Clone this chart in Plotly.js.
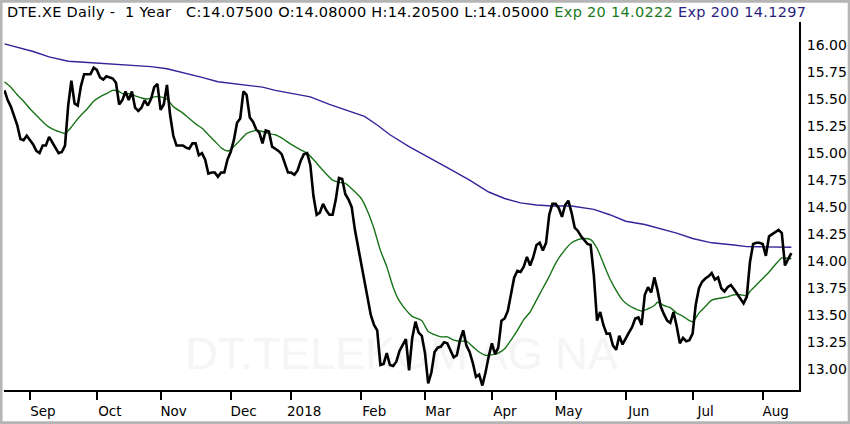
<!DOCTYPE html>
<html>
<head>
<meta charset="utf-8">
<script src="https://cdn.plot.ly/plotly-3.0.1.min.js"></script>
<style>html,body{margin:0;padding:0;background:#fff;}#chart{width:850px;height:424px;}
.annotation-text{letter-spacing:0.3px;}</style>
</head>
<body>
<div id="chart"></div>
<script>
// Trading-day positions of month starts and their labels
const monthTickIdx = [8, 29, 49, 71, 90, 112, 132, 153, 173, 195, 216, 238];
const monthTickText = ['Sep', 'Oct', 'Nov', 'Dec', '2018', 'Feb', 'Mar', 'Apr', 'May', 'Jun', 'Jul', 'Aug'];

const yTickVals = [13.00, 13.25, 13.50, 13.75, 14.00, 14.25, 14.50, 14.75, 15.00, 15.25, 15.50, 15.75, 16.00];
const yTickText = ['13.00', '13.25', '13.50', '13.75', '14.00', '14.25', '14.50', '14.75', '15.00', '15.25', '15.50', '15.75', '16.00'];

// Daily closes (one per trading day)
const closes = [
  15.58, 15.49, 15.43, 15.35, 15.26, 15.13, 15.12, 15.16, 15.12, 15.08,
  15.02, 15.00, 15.07, 15.07, 15.15, 15.10, 15.05, 15.00, 15.01, 15.07,
  15.44, 15.67, 15.46, 15.44, 15.62, 15.73, 15.73, 15.73, 15.79, 15.77,
  15.70, 15.68, 15.71, 15.70, 15.69, 15.65, 15.45, 15.49, 15.57, 15.49,
  15.57, 15.42, 15.39, 15.42, 15.49, 15.44, 15.50, 15.61, 15.64, 15.40,
  15.45, 15.63, 15.35, 15.16, 15.07, 15.07, 15.07, 15.05, 15.04, 15.09,
  15.09, 14.98, 15.00, 14.94, 14.81, 14.82, 14.82, 14.78, 14.82, 14.82,
  14.94, 15.01, 15.12, 15.28, 15.32, 15.57, 15.54, 15.33, 15.29, 15.22,
  15.19, 15.09, 15.21, 15.20, 15.06, 15.04, 15.02, 14.99, 14.91, 14.82,
  14.82, 14.80, 14.84, 14.93, 14.99, 15.00, 14.89, 14.60, 14.43, 14.45,
  14.53, 14.47, 14.43, 14.43, 14.57, 14.77, 14.76, 14.62, 14.57, 14.50,
  14.29, 14.13, 14.00, 13.84, 13.66, 13.50, 13.41, 13.36, 13.04, 13.05,
  13.15, 13.04, 13.03, 13.07, 13.17, 13.22, 13.28, 12.99, 13.29, 13.44,
  13.34, 13.31, 13.15, 12.87, 12.97, 13.16, 13.20, 13.21, 13.25, 13.24,
  13.18, 13.11, 13.13, 13.27, 13.36, 13.22, 13.16, 13.06, 12.93, 12.95,
  12.85, 12.97, 13.12, 13.24, 13.14, 13.20, 13.45, 13.47, 13.54, 13.71,
  13.85, 13.91, 13.90, 13.95, 14.04, 13.96, 14.04, 14.15, 14.17, 14.10,
  14.17, 14.43, 14.53, 14.53, 14.49, 14.41, 14.52, 14.56, 14.45, 14.31,
  14.28, 14.23, 14.19, 14.16, 14.15, 13.87, 13.45, 13.53, 13.41, 13.33,
  13.33, 13.22, 13.18, 13.31, 13.23, 13.29, 13.34, 13.39, 13.47, 13.48,
  13.41, 13.69, 13.76, 13.71, 13.85, 13.73, 13.58, 13.51, 13.45, 13.43,
  13.53, 13.40, 13.24, 13.29, 13.26, 13.27, 13.33, 13.60, 13.75, 13.81,
  13.84, 13.86, 13.89, 13.83, 13.85, 13.75, 13.72, 13.76, 13.78, 13.74,
  13.70, 13.65, 13.61, 13.67, 13.99, 14.16, 14.17, 14.17, 14.16, 14.05,
  14.23, 14.25, 14.27, 14.29, 14.26, 13.96, 14.02, 14.075
];

// Exp 20 (at these trading days)
const ema20Idx = [0, 2, 4, 6, 8, 10, 12, 14, 16, 18, 19, 21, 22, 24, 26, 28, 30, 32, 34, 36, 37, 39, 41, 43, 45, 47, 49, 51, 53, 56, 58, 60, 62, 64, 66, 68, 70, 71, 72, 74, 76, 79, 81, 83, 85, 87, 90, 93, 95, 97, 100, 103, 105, 107, 109, 112, 114, 116, 118, 120, 122, 124, 126, 128, 131, 133, 135, 137, 139, 141, 143, 145, 147, 149, 151, 154, 155, 157, 159, 161, 163, 165, 167, 169, 171, 173, 175, 178, 180, 182, 184, 186, 188, 190, 192, 194, 196, 198, 200, 202, 204, 205, 207, 209, 211, 213, 215, 216, 218, 220, 222, 225, 227, 229, 231, 233, 234, 236, 238, 240, 242, 244, 245, 247];
const ema20Val = [15.66, 15.61, 15.54, 15.48, 15.41, 15.35, 15.29, 15.24, 15.21, 15.19, 15.18, 15.24, 15.28, 15.35, 15.41, 15.48, 15.52, 15.55, 15.58, 15.57, 15.55, 15.55, 15.53, 15.51, 15.50, 15.52, 15.52, 15.50, 15.43, 15.37, 15.32, 15.27, 15.23, 15.17, 15.11, 15.05, 15.02, 15.03, 15.06, 15.12, 15.18, 15.21, 15.20, 15.18, 15.17, 15.14, 15.08, 15.03, 15.00, 14.94, 14.84, 14.75, 14.73, 14.72, 14.67, 14.58, 14.46, 14.30, 14.10, 13.95, 13.76, 13.63, 13.55, 13.49, 13.45, 13.35, 13.32, 13.30, 13.30, 13.27, 13.26, 13.26, 13.21, 13.16, 13.13, 13.14, 13.15, 13.19, 13.27, 13.36, 13.46, 13.53, 13.64, 13.75, 13.86, 13.98, 14.07, 14.17, 14.20, 14.21, 14.20, 14.12, 13.98, 13.84, 13.73, 13.64, 13.59, 13.56, 13.54, 13.56, 13.59, 13.62, 13.59, 13.57, 13.52, 13.49, 13.45, 13.44, 13.52, 13.58, 13.64, 13.66, 13.67, 13.69, 13.69, 13.68, 13.72, 13.78, 13.84, 13.90, 13.97, 14.03, 14.03, 14.0222];

// Exp 200 (at these trading days)
const ema200Idx = [0, 4, 9, 14, 20, 25, 30, 35, 40, 46, 51, 57, 62, 67, 72, 76, 81, 85, 90, 96, 102, 108, 113, 117, 121, 127, 134, 140, 146, 152, 157, 162, 167, 172, 178, 185, 190, 195, 201, 206, 211, 216, 222, 229, 233, 237, 242, 247];
const ema200Val = [16.01, 15.98, 15.94, 15.89, 15.85, 15.84, 15.83, 15.82, 15.81, 15.80, 15.78, 15.74, 15.70, 15.66, 15.64, 15.63, 15.61, 15.58, 15.55, 15.52, 15.45, 15.39, 15.34, 15.26, 15.17, 15.06, 14.95, 14.85, 14.75, 14.64, 14.58, 14.54, 14.52, 14.51, 14.51, 14.48, 14.43, 14.37, 14.34, 14.30, 14.26, 14.21, 14.17, 14.15, 14.135, 14.133, 14.131, 14.1297];

const headerText = 'DTE.XE Daily -\u00A0\u00A01 Year\u00A0\u00A0\u00A0C:14.07500 O:14.08000 H:14.20500 L:14.05000 ' +
  '<span style="color:#1b7a1b">Exp 20 14.0222</span> <span style="color:#2a1f80">Exp 200 14.1297</span>';
const watermark = 'DT.TELEKOM AG NA';

const dayIdx = closes.map((_, i) => i);
const FONT = 'DejaVu Sans, Verdana, sans-serif';

const traces = [
  {x: ema200Idx, y: ema200Val, type: 'scatter', mode: 'lines', line: {color: '#34239a', width: 1.4}, hoverinfo: 'skip'},
  {x: ema20Idx, y: ema20Val, type: 'scatter', mode: 'lines', line: {color: '#187318', width: 1.4, shape: 'spline', smoothing: 0.6}, hoverinfo: 'skip'},
  {x: dayIdx, y: closes, type: 'scatter', mode: 'lines', line: {color: '#000000', width: 2.6}, hoverinfo: 'skip'}
];

const layout = {
  width: 850, height: 424,
  margin: {l: 4, r: 51, t: 22, b: 34, pad: 0},
  paper_bgcolor: '#ffffff', plot_bgcolor: '#ffffff',
  showlegend: false,
  font: {family: FONT, color: '#000', size: 13},
  xaxis: {
    range: [-0.15, 249.4], tickmode: 'array', tickvals: monthTickIdx, ticktext: monthTickText,
    ticks: 'outside', ticklen: 8, tickwidth: 2, tickcolor: '#000',
    showline: true, linewidth: 2, linecolor: '#000', showgrid: false, zeroline: false,
    ticklabelshift: 13, tickfont: {family: FONT, size: 13.5, color: '#000'}, fixedrange: true
  },
  yaxis: {
    side: 'right', range: [12.8085, 16.2128], tickmode: 'array', tickvals: yTickVals, ticktext: yTickText,
    ticks: '', showline: true, linewidth: 2, linecolor: '#000', showgrid: false, zeroline: false,
    ticklabelstandoff: 3, tickfont: {family: FONT, size: 14, color: '#000'}, fixedrange: true
  },
  shapes: [
    {type: 'rect', xref: 'paper', yref: 'paper', x0: 0.1, x1: 0.9, y0: 0.0, y1: 0.22, layer: 'below',
     line: {width: 0}, fillcolor: 'rgba(0,0,0,0)',
     label: {text: watermark, textposition: 'middle center', font: {family: 'Liberation Sans, Arial, sans-serif', size: 45, color: '#f5f5f5'}}},
    {type: 'rect', xref: 'paper', yref: 'paper',
     x0: -2.75 / 795, x1: 845 / 795, y0: (390 - 422.6) / 368, y1: (390 - 1.4) / 368,
     line: {color: '#b5b5b5', width: 2.6}, fillcolor: 'rgba(0,0,0,0)', layer: 'above'}
  ],
  annotations: [
    {xref: 'paper', yref: 'paper', x: 1 / 795, y: (390 - 12) / 368, xanchor: 'left', yanchor: 'middle',
     text: headerText, showarrow: false, font: {family: FONT, size: 14.5, color: '#000'}}
  ]
};

Plotly.newPlot('chart', traces, layout, {displayModeBar: false, staticPlot: true});
</script>
</body>
</html>
